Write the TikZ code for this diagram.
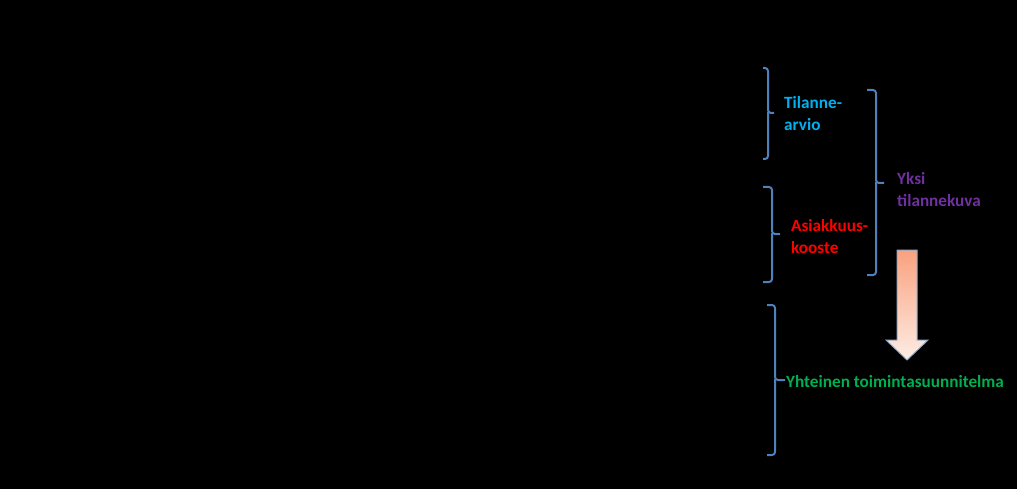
\documentclass[tikz,border=0pt]{standalone}
\usepackage{fontspec}
\setmainfont{Carlito}
\begin{document}
\begin{tikzpicture}[x=1pt,y=-1pt,
  bracestyle/.style={draw=braceblue,line width=2pt,rounded corners=3pt},
  lbl/.style={font=\bfseries\fontsize{17.2}{22}\selectfont,align=left,anchor=west,inner sep=0pt}]
\definecolor{braceblue}{HTML}{4F81BD}
\definecolor{tcyan}{HTML}{00B0F0}
\definecolor{tpurple}{HTML}{7030A0}
\definecolor{tgreen}{HTML}{00B050}
\definecolor{arrtop}{HTML}{F9A17F}
\definecolor{arrbot}{HTML}{FDEDE4}
\definecolor{arredge}{HTML}{8EA9C8}
\fill[black] (0,0) rectangle (1017,489);
\useasboundingbox (0,0) rectangle (1017,489);
% braces
\draw[bracestyle] (763,68) -- (768,68) -- (768,113) -- (774,113);
\draw[bracestyle] (768,112) -- (768,159) -- (763,159);
\draw[bracestyle] (763,187) -- (772,187) -- (772,234) -- (780,234);
\draw[bracestyle] (772,233) -- (772,282) -- (763,282);
\draw[bracestyle] (867,90) -- (876,90) -- (876,183) -- (884,183);
\draw[bracestyle] (876,182) -- (876,275) -- (867,275);
\draw[bracestyle] (767,305) -- (775,305) -- (775,380) -- (785,380);
\draw[bracestyle] (775,379) -- (775,455) -- (767,455);
% labels
\node[lbl,text=tcyan] (tilanne) at (784,114) {Tilanne-\\arvio};
\node[lbl,text=red] (asiak) at (791,237) {Asiakkuus-\\kooste};
\node[lbl,text=tpurple] (yksi) at (897,190) {Yksi\\tilannekuva};
\node[lbl,text=tgreen] (yht) at (786,382) {Yhteinen toimintasuunnitelma};
% arrow
\shade[top color=arrtop,bottom color=arrbot,draw=arredge,line width=1pt]
  (897,250) -- (917,250) -- (917,340) -- (928,340) -- (907,360) -- (886,340) -- (897,340) -- cycle;
\end{tikzpicture}
\end{document}
